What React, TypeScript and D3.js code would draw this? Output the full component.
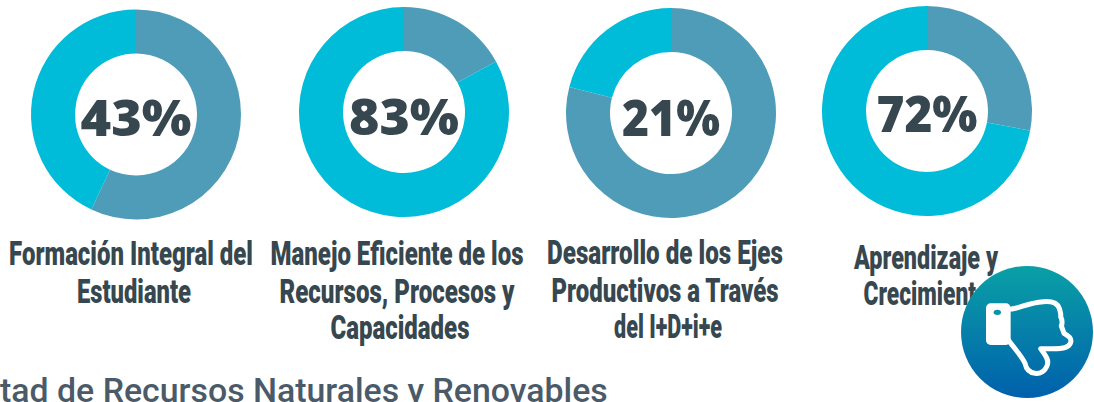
import React from "react";
import * as d3 from "d3";

const percentLabels = ["43%", "83%", "21%", "72%"];
const cyanValues = [43, 83, 21, 72];
const blueValues = [57, 17, 79, 28];
const categoryLines = [
  ["Formación Integral del", "Estudiante"],
  ["Manejo Eficiente de los", "Recursos, Procesos y", "Capacidades"],
  ["Desarrollo de los Ejes", "Productivos a Través", "del I+D+i+e"],
  ["Aprendizaje y", "Crecimiento"],
];
const footerText = "tad de Recursos Naturales y Renovables";

// layout only
const centers = [
  [136, 114.5],
  [404, 112],
  [671, 113],
  [927, 111],
];
const percentWidths = [111, 110, 98, 101];
const percentBaselines = [136, 135, 136, 132];
const labelCenters = [
  [131, 134],
  [397, 397, 400],
  [665, 665, 668],
  [926, 926],
];
const labelBaselines = [
  [265, 303],
  [265, 303, 339],
  [264, 302, 338],
  [269, 305],
];
const labelWidths = [
  [244, 114],
  [253, 235, 139],
  [236, 228, 108],
  [144, 125],
];
const OUTER = 105;
const INNER = 61;
const BLUE = "#4f9cb8";
const CYAN = "#00bcd8";
const INK = "#37474f";
const LABEL_FONT = "900 33px Roboto";
const PERCENT_FONT = "800 50px 'Open Sans'";
const FOOTER_FONT = "500 33px Roboto";

const pie = d3.pie<number>().sort(null);
const arc = d3.arc<d3.PieArcDatum<number>>().innerRadius(INNER).outerRadius(OUTER);

const ctx = document.createElement("canvas").getContext("2d")!;
function fitScale(text: string, font: string, target: number) {
  ctx.font = font;
  return target / ctx.measureText(text).width;
}

export default function App() {
  return (
    <svg
      width={1094}
      height={402}
      viewBox="0 0 1094 402"
      style={{ position: "absolute", left: 0, top: 0, display: "block", background: "#fff" }}
    >
      <defs>
        <linearGradient id="badge" x1="0" y1="0" x2="0" y2="1">
          <stop offset="0" stopColor="#0aa0a6" />
          <stop offset="1" stopColor="#0060ac" />
        </linearGradient>
      </defs>
      {percentLabels.map((label, i) => {
        const slices = pie([blueValues[i], cyanValues[i]]);
        const [cx, cy] = centers[i];
        return (
          <g key={label}>
            <g transform={`translate(${cx},${cy})`}>
              <path d={arc(slices[0]) ?? ""} fill={BLUE} />
              <path d={arc(slices[1]) ?? ""} fill={CYAN} />
            </g>
            <text
              transform={`translate(${cx},${percentBaselines[i]}) scale(${fitScale(label, PERCENT_FONT, percentWidths[i])},1)`}
              textAnchor="middle"
              style={{ font: PERCENT_FONT }}
              fill={INK}
            >
              {label}
            </text>
            {categoryLines[i].map((line, j) => (
              <text
                key={line}
                transform={`translate(${labelCenters[i][j]},${labelBaselines[i][j]}) scale(${fitScale(line, LABEL_FONT, labelWidths[i][j])},1)`}
                textAnchor="middle"
                style={{ font: LABEL_FONT }}
                fill={INK}
              >
                {line}
              </text>
            ))}
          </g>
        );
      })}
      <text
        transform={`translate(0,402) scale(${fitScale(footerText, FOOTER_FONT, 608)},1)`}
        style={{ font: FOOTER_FONT }}
        fill="#4a5a68"
      >
        {footerText}
      </text>
      <circle cx={1027} cy={332} r={66} fill="url(#badge)" />
      <g transform="translate(940,250) scale(0.3333)">
        <rect x={138} y={160} width={74} height={125} rx={14} fill="#fff" />
        <ellipse cx={172} cy={187} rx={11} ry={8} fill="#0594aa" />
        <path
          d="M205 178 C235 178 262 158 310 155 C335 153 352 158 358 175 C360 185 364 190 362 200 C366 208 368 218 364 228 C368 238 370 244 372 250 C385 258 396 264 392 278 C388 293 370 296 340 296 L302 296 C312 312 328 325 322 345 C315 365 300 372 285 370 C265 368 258 355 255 340 C245 318 225 298 205 270"
          fill="none"
          stroke="#fff"
          strokeWidth={15}
          strokeLinejoin="round"
          strokeLinecap="round"
        />
      </g>
    </svg>
  );
}
